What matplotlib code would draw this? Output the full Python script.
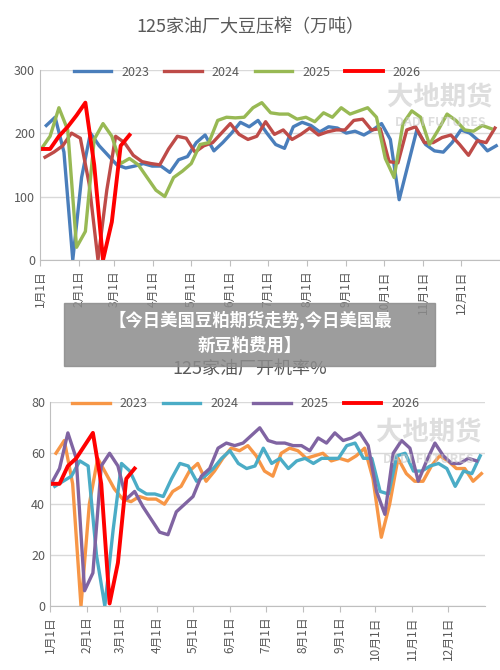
import numpy as np
import matplotlib.pyplot as plt
from matplotlib.patches import Rectangle

plt.rcParams['font.family'] = ['Noto Sans CJK SC', 'DejaVu Sans']

# ---- data: weekly values ----
years = ["2023", "2024", "2025", "2026"]

crush_2023 = [212, 225, 170, 0, 130, 200, 180, 165, 150, 145, 148, 152, 148, 148, 138, 158, 163, 185,
              197, 172, 185, 200, 217, 210, 220, 200, 182, 176, 210, 217, 212, 202, 210, 208, 200, 203,
              197, 205, 215, 190, 95, 150, 205, 182, 172, 170, 185, 205, 200, 188, 172, 180]
crush_2024 = [162, 170, 180, 200, 192, 120, 0, 110, 195, 185, 165, 155, 152, 150, 175, 195, 192, 170,
              180, 185, 200, 215, 198, 190, 195, 218, 198, 205, 190, 198, 208, 197, 202, 205, 205, 220,
              222, 205, 207, 155, 153, 205, 210, 185, 185, 193, 197, 182, 165, 188, 185, 208]
crush_2025 = [175, 195, 240, 205, 20, 45, 190, 215, 195, 152, 160, 150, 130, 110, 100, 130, 140, 152,
              182, 185, 220, 225, 224, 225, 240, 248, 232, 230, 230, 222, 225, 218, 232, 225, 240, 230,
              235, 240, 225, 160, 130, 215, 235, 225, 182, 205, 230, 220, 205, 203, 212, 207]
crush_2026 = [175, 175, 195, 210, 228, 248, 150, 0, 60, 180, 197]

rate_2023 = [60, 65, 48, 0, 40, 58, 52, 46, 42, 41, 43, 42, 42, 40, 45, 47, 53, 56, 49, 53, 58, 62,
             61, 63, 59, 53, 51, 60, 62, 61, 58, 59, 60, 57, 58, 57, 59, 62, 50, 27, 40, 58, 52, 49,
             49, 55, 59, 57, 54, 54, 49, 52]
rate_2024 = [47, 49, 51, 57, 55, 20, 0, 30, 56, 53, 46, 44, 44, 43, 50, 56, 55, 49, 51, 54, 58, 61,
             56, 54, 55, 62, 56, 58, 54, 57, 58, 56, 58, 58, 58, 63, 64, 58, 58, 45, 44, 59, 60, 53,
             53, 55, 56, 54, 47, 53, 52, 59]
rate_2025 = [48, 54, 68, 58, 6, 13, 55, 60, 55, 42, 45, 39, 34, 29, 28, 37, 40, 43, 51, 54, 62, 64,
             63, 64, 67, 70, 65, 64, 64, 63, 63, 61, 66, 64, 68, 65, 66, 68, 63, 45, 36, 60, 65, 62,
             49, 57, 64, 59, 56, 56, 58, 57]
rate_2026 = [48, 48, 55, 58, 63, 68, 48, 1, 17, 50, 54]

month_days = [0, 31, 59, 90, 120, 151, 181, 212, 243, 273, 304, 334]
month_labels = [f"{m}月1日" for m in range(1, 13)]

top_colors = ["#4a7ebb", "#be4b48", "#98b954", "#ff0000"]
bot_colors = ["#f79646", "#4bacc6", "#8064a2", "#ff0000"]
starts = [5, 4, 1, 1]


def draw(ax, series, colors, ymax, ystep, title, title_y):
    for name, vals, c, s in zip(years, series, colors, starts):
        x = s + 7 * np.arange(len(vals))
        ax.plot(x, vals, color=c, lw=2.4 if name != "2026" else 2.8, label=name)
    ax.set_xlim(0, 365)
    ax.set_ylim(0, ymax)
    ax.set_yticks(np.arange(0, ymax + 1, ystep))
    ax.set_xticks(month_days)
    ax.set_xticklabels(month_labels, rotation=90, fontsize=8.5, color="#595959")
    ax.tick_params(axis='y', labelsize=9, colors="#595959", length=0)
    ax.tick_params(axis='x', length=4, color="#bfbfbf")
    for sp in ["top", "right"]:
        ax.spines[sp].set_visible(False)
    ax.spines["left"].set_color("#bfbfbf")
    ax.spines["bottom"].set_color("#bfbfbf")
    ax.grid(axis='y', color="#d9d9d9", lw=1)
    ax.set_axisbelow(True)
    ax.legend(loc="upper center", bbox_to_anchor=(0.45, 1.08), ncol=4, frameon=False,
              fontsize=9, handlelength=3, columnspacing=1.2, labelcolor="#595959")
    fig.text(0.5, title_y, title, ha="center", va="center", fontsize=13, color="#595959")
    ax.text(0.87, 0.85, "大地期货", transform=ax.transAxes, ha="center", va="center",
            fontsize=19, color="#c8c8c8", alpha=0.6, fontweight="bold")
    ax.text(0.87, 0.72, "DADI FUTURES", transform=ax.transAxes, ha="center", va="center",
            fontsize=9, color="#c8c8c8", alpha=0.6, fontweight="bold")


fig = plt.figure(figsize=(5, 6.7), dpi=100)
ax1 = fig.add_axes([0.08, 0.612, 0.92, 0.284])
draw(ax1, [crush_2023, crush_2024, crush_2025, crush_2026], top_colors, 300, 100,
     "125家油厂大豆压榨（万吨）", 0.96)
ax2 = fig.add_axes([0.1, 0.0955, 0.87, 0.304])
draw(ax2, [rate_2023, rate_2024, rate_2025, rate_2026], bot_colors, 80, 20,
     "125家油厂开机率%", 0.449)

fig.patches.append(Rectangle((0.128, 1 - 366 / 670), 0.742, 63 / 670, transform=fig.transFigure,
                             color="#8c8c8c", alpha=0.85, zorder=10))
fig.text(0.5, 1 - 320 / 670, "【今日美国豆粕期货走势,今日美国最", ha="center", va="center",
         fontsize=12.5, color="white", fontweight="bold", zorder=11)
fig.text(0.5, 1 - 346 / 670, "新豆粕费用】", ha="center", va="center",
         fontsize=12.5, color="white", fontweight="bold", zorder=11)

fig.savefig("out.png")
